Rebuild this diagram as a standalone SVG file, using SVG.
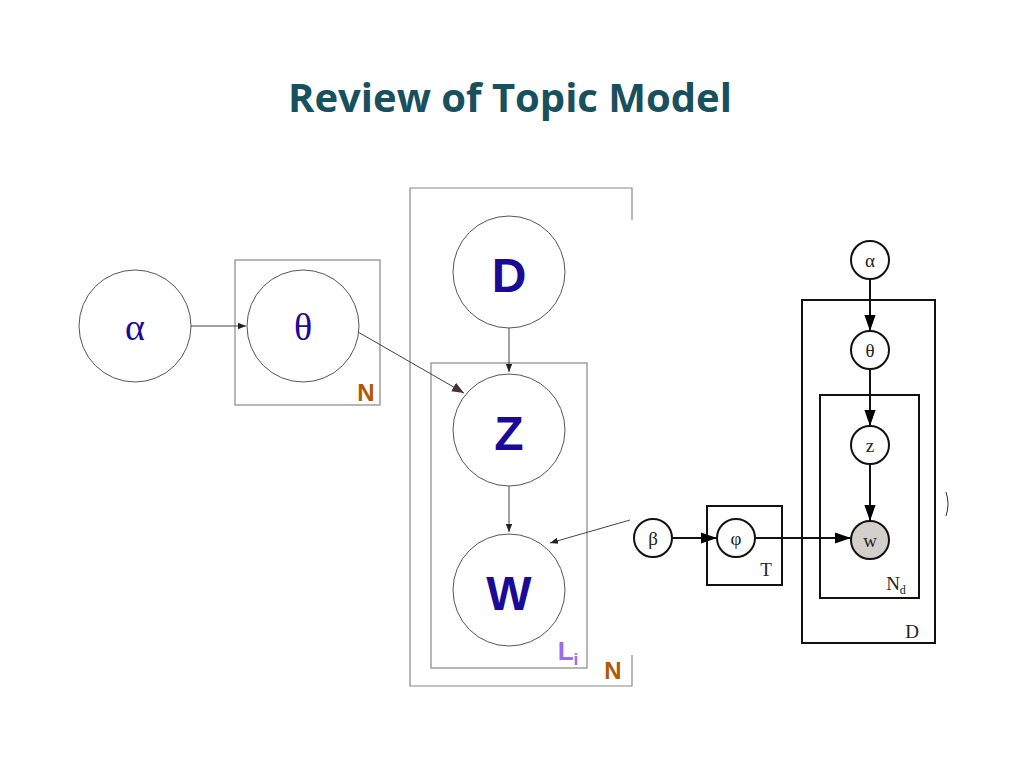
<svg xmlns="http://www.w3.org/2000/svg" width="1024" height="768" viewBox="0 0 1024 768">
<style>
.big{fill:#fff;stroke:#555;stroke-width:1}
.box{fill:none;stroke:#888;stroke-width:1.2}
.lt{font-family:"Liberation Sans",Arial,sans-serif;font-weight:bold;fill:#1a0a96;text-anchor:middle}
.gr{font-family:"Liberation Serif",serif;fill:#1a0a96;text-anchor:middle}
.sm{fill:#fff;stroke:#111;stroke-width:2}
.st{font-family:"Liberation Serif",serif;fill:#222;text-anchor:middle;font-size:19px}
.c1{stroke:#444;stroke-width:1;fill:none}
.c2{stroke:#111;stroke-width:2;fill:none}
</style>
<defs>
<marker id="a1" viewBox="0 0 10 10" refX="10" refY="5" markerWidth="8" markerHeight="8" orient="auto" markerUnits="userSpaceOnUse"><path d="M0,1 L10,5 L0,9Z" fill="#222"/></marker>
<marker id="a3" viewBox="0 0 10 10" refX="10" refY="5" markerWidth="12" markerHeight="12" orient="auto" markerUnits="userSpaceOnUse"><path d="M0,1 L10,5 L0,9Z" fill="#4a3038"/></marker>
<marker id="a2" viewBox="0 0 10 10" refX="10" refY="5" markerWidth="16" markerHeight="16" orient="auto" markerUnits="userSpaceOnUse"><path d="M0,1.5 L10,5 L0,8.5Z" fill="#000"/></marker>
</defs>
<rect width="1024" height="768" fill="#fff"/>
<text x="510" y="112" font-family="Open Sans,'Liberation Sans',sans-serif" font-weight="bold" font-size="40" fill="#18505e" text-anchor="middle">Review of Topic Model</text>
<g id="plates">
<rect x="235" y="260" width="145" height="145" class="box"/>
<text x="366" y="401" font-family="Liberation Sans,sans-serif" font-weight="bold" font-size="24" fill="#b35a00" text-anchor="middle">N</text>
<path d="M632,220 V188 H410 V686 H632 V655" class="box"/>
<rect x="431" y="363" width="156" height="305" class="box"/>
<text x="568" y="660" font-family="Liberation Sans,sans-serif" font-weight="bold" font-size="26" fill="#9a6cf0" text-anchor="middle">L<tspan font-size="17" dy="5">i</tspan></text>
<text x="613" y="679" font-family="Liberation Sans,sans-serif" font-weight="bold" font-size="24" fill="#b35a00" text-anchor="middle">N</text>
<rect x="707" y="506" width="75" height="79" fill="none" stroke="#111" stroke-width="2"/>
<text x="766" y="576" class="st">T</text>
<rect x="802" y="300" width="133" height="343" fill="none" stroke="#111" stroke-width="2"/>
<text x="912" y="638" class="st">D</text>
<rect x="820" y="395" width="99" height="203" fill="none" stroke="#111" stroke-width="2"/>
<text x="896" y="590" class="st">N<tspan font-size="12" dy="4">d</tspan></text>
</g>
<g id="connectors">
<line x1="191" y1="326" x2="246" y2="326" class="c1" marker-end="url(#a1)"/>
<line x1="358" y1="332" x2="464" y2="393" class="c1" marker-end="url(#a3)"/>
<line x1="509" y1="328" x2="509" y2="372" class="c1" marker-end="url(#a1)"/>
<line x1="509" y1="486" x2="509" y2="532" class="c1" marker-end="url(#a1)"/>
<line x1="630" y1="520" x2="550" y2="543" class="c1" marker-end="url(#a1)"/>
<line x1="870" y1="279" x2="870" y2="331" class="c2" marker-end="url(#a2)"/>
<line x1="870" y1="369" x2="870" y2="426" class="c2" marker-end="url(#a2)"/>
<line x1="870" y1="464" x2="870" y2="521" class="c2" marker-end="url(#a2)"/>
<line x1="672" y1="538" x2="717" y2="538" class="c2" marker-end="url(#a2)"/>
<line x1="755" y1="538" x2="851" y2="538" class="c2" marker-end="url(#a2)"/>
</g>
<g id="n-alpha"><circle cx="135" cy="326" r="56" class="big"/><text x="135" y="340" class="gr" font-size="38">α</text></g>
<g id="n-theta"><circle cx="303" cy="326" r="56" class="big"/><text x="303" y="340" class="gr" font-size="38">θ</text></g>
<g id="n-D"><circle cx="509" cy="272" r="56" class="big"/><text x="509" y="292" class="lt" font-size="48">D</text></g>
<g id="n-Z"><circle cx="509" cy="430" r="56" class="big"/><text x="509" y="450" class="lt" font-size="48">Z</text></g>
<g id="n-W"><circle cx="509" cy="590" r="56" class="big"/><text x="509" y="610" class="lt" font-size="48">W</text></g>
<g id="s-alpha"><circle cx="870" cy="260" r="19" class="sm"/><text x="870" y="267" class="st">α</text></g>
<g id="s-theta"><circle cx="870" cy="350" r="19" class="sm"/><text x="870" y="357" class="st">θ</text></g>
<g id="s-z"><circle cx="870" cy="445" r="19" class="sm"/><text x="870" y="452" class="st">z</text></g>
<g id="s-w"><circle cx="870" cy="540" r="19" fill="#d3d0cc" stroke="#111" stroke-width="2"/><text x="870" y="547" class="st">w</text></g>
<g id="s-beta"><circle cx="653" cy="538" r="19" class="sm"/><text x="653" y="545" class="st">β</text></g>
<g id="s-phi"><circle cx="736" cy="538" r="19" class="sm"/><text x="736" y="545" class="st">φ</text></g>
<path d="M946,492 Q950,504 946,516" fill="none" stroke="#333" stroke-width="1"/>
</svg>
